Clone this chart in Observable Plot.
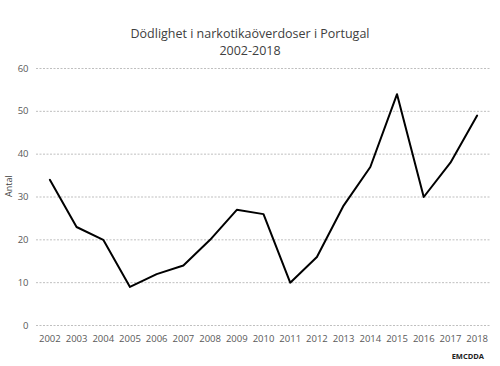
<!DOCTYPE html>
<html><head><meta charset="utf-8">
<script src="https://cdn.jsdelivr.net/npm/d3@7"></script>
<script src="https://cdn.jsdelivr.net/npm/@observablehq/plot@0.6"></script>
<style>
body{margin:0;background:#fff;font-family:"Open Sans",sans-serif;}
#wrap{width:500px;height:366px;position:relative;overflow:hidden;}
#title{height:60px;box-sizing:border-box;padding-top:25px;text-align:center;font-size:12.5px;line-height:17px;color:#404040;padding-left:0;}
#cap{position:absolute;top:351px;right:16px;font-size:7.5px;font-weight:bold;color:#222;}
</style></head>
<body><div id="wrap"><div id="title">Dödlighet i narkotikaöverdoser i Portugal<br>2002-2018</div><div id="chart"></div><div id="cap">EMCDDA</div></div>
<script>
const years = ["2002","2003","2004","2005","2006","2007","2008","2009","2010","2011","2012","2013","2014","2015","2016","2017","2018"];
const deaths = [34,23,20,9,12,14,20,27,26,10,16,28,37,54,30,38,49];
const yTicks = [0,10,20,30,40,50,60];
const data = years.map((y,i)=>({year:y, value:deaths[i]}));
const chart = Plot.plot({
  width:500, height:290,
  marginLeft:36, marginRight:10, marginTop:8, marginBottom:25,
  style:{fontFamily:"Open Sans, sans-serif", fontSize:"9.5px", color:"#595959", background:"#fff"},
  x:{type:"point", domain:years, padding:0.5, round:false, label:null, tickSize:0, tickPadding:10},
  y:{domain:[0,60], ticks:yTicks, label:null, tickSize:0, tickPadding:8},
  marks:[
    Plot.ruleY(yTicks, {stroke:"#bfbfbf", strokeWidth:1, strokeDasharray:"2,1.5"}),
    Plot.lineY(data, {x:"year", y:"value", stroke:"#000", strokeWidth:2}),
    Plot.text(["Antal"], {frameAnchor:"left", dx:-27, rotate:-90, fontSize:9, fill:"#404040"})
  ]
});
document.getElementById("chart").appendChild(chart);
</script></body></html>
